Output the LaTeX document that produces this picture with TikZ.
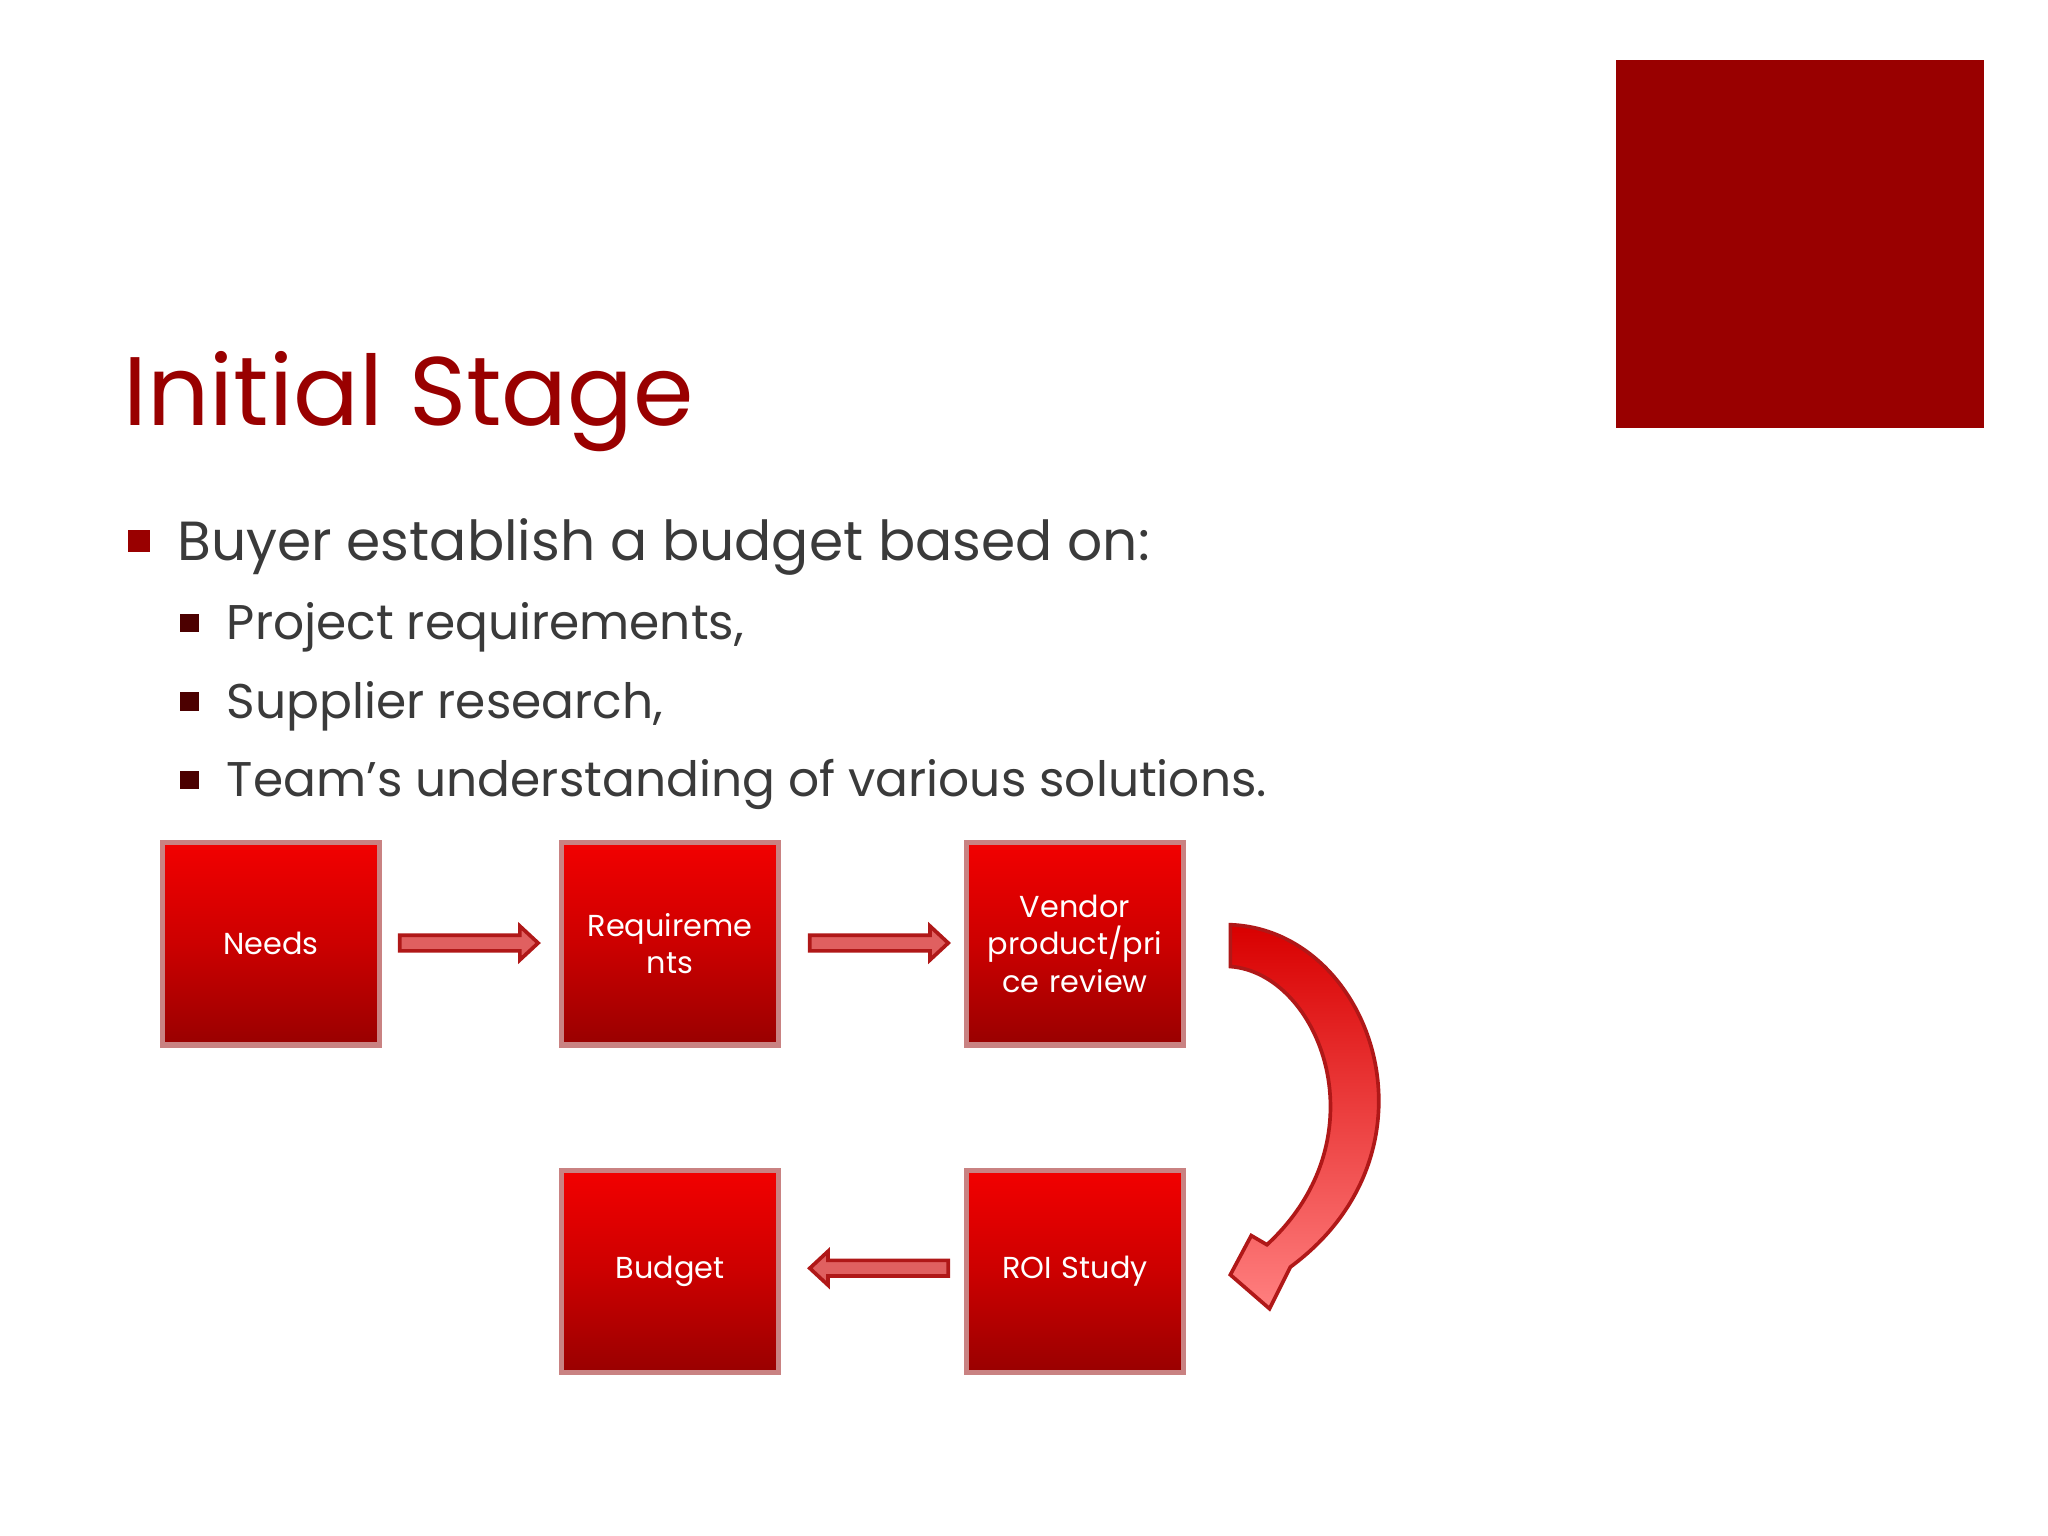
\documentclass[tikz,border=0pt]{standalone}
\usepackage{fontspec}
\setmainfont{Poppins}
\definecolor{dred}{HTML}{990000}
\definecolor{tgray}{HTML}{3A3A3A}
\definecolor{arrfill}{HTML}{E06060}
\definecolor{arrline}{HTML}{B01818}
\begin{document}
\begin{tikzpicture}[x=0.01cm,y=-0.01cm,
  box/.style={draw=red!40!gray!70,line width=1.2pt,minimum width=166*0.01cm,minimum height=155*0.01cm,
    top color=red!95!black,bottom color=red!60!black,middle color=red!80!black,shading angle=0,
    text=white,font=\fontsize{6.6pt}{8.2pt}\selectfont,align=center,text width=150*0.01cm,inner sep=0pt},
  blk/.style={fill=arrfill,draw=arrline,line width=0.8pt},
  sub/.style={anchor=base west,text=tgray,font=\fontsize{10.6pt}{13pt}\selectfont,inner sep=0pt}]
\useasboundingbox (0,0) rectangle (1568,1176);
\fill[white] (0,0) rectangle (1568,1176);
\fill[dred] (1237,46) rectangle (1519,328);
\node[anchor=base west,text=dred,font=\fontsize{21.2pt}{26pt}\selectfont,inner sep=0pt] (title) at (94,326) {Initial Stage};
\fill[dred] (98,406) rectangle (115,423);
\node[anchor=base west,text=tgray,font=\fontsize{12pt}{15pt}\selectfont,inner sep=0pt] (b1) at (135,429) {Buyer establish a budget based on:};
\foreach \y in {477,537,597}{\fill[black!70!red] (138,\y-7) rectangle (152,\y+7);}
\node[sub] (s1) at (173,490) {Project requirements,};
\node[sub] (s2) at (173,550) {Supplier research,};
\node[sub] (s3) at (173,610) {Team’s understanding of various solutions.};
\node[box] (needs) at (207.5,722.5) {Needs};
\node[box] (req) at (513,722.5) {Requireme\\nts};
\node[box] (vend) at (823,722.5) {Vendor\\product/pri\\ce review};
\node[box] (bud) at (513,973.5) {Budget};
\node[box] (roi) at (823,973.5) {ROI Study};
% block arrows
\draw[blk] (306,716) -- (398,716) -- (398,709) -- (412,722) -- (398,735) -- (398,728) -- (306,728) -- cycle;
\draw[blk] (620,716) -- (712,716) -- (712,709) -- (726,722) -- (712,735) -- (712,728) -- (620,728) -- cycle;
\draw[blk] (726,965) -- (634,965) -- (634,958) -- (620,971) -- (634,984) -- (634,977) -- (726,977) -- cycle;
% curved arrow
\draw[blk,left color=red!85!black,right color=red!50!white,shading angle=0] (942,740) -- (942,708) .. controls (1050,712) and (1110,880) .. (988,970)
  -- (972,1002) -- (942,976) -- (958,946) -- (970,953) .. controls (1060,870) and (1010,745) .. (942,740) -- cycle;
\end{tikzpicture}
\end{document}
